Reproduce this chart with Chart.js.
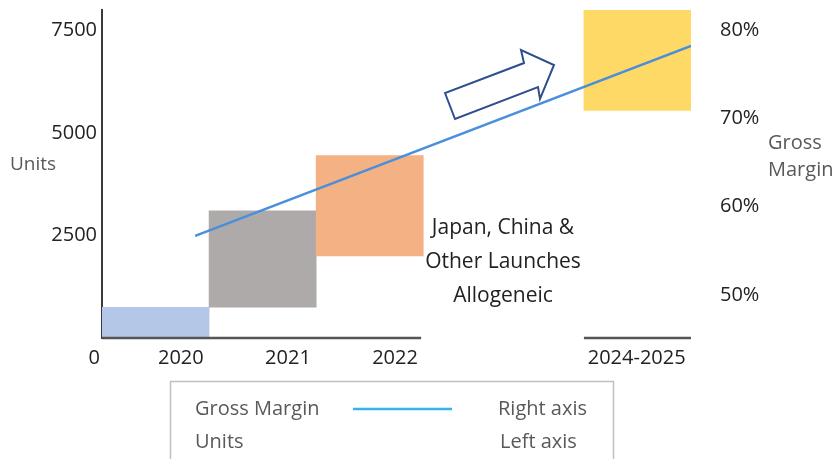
<!DOCTYPE html>
<html>
<head>
<meta charset="utf-8">
<script src="https://cdn.jsdelivr.net/npm/chart.js@4.4.1/dist/chart.umd.min.js"></script>
<style>
  html, body { margin: 0; padding: 0; background: #fff; }
  #wrap { width: 839px; height: 459px; position: relative; }
</style>
</head>
<body>
<div id="wrap"><canvas id="unitsChart"></canvas></div>
<script>
// units per period (floating bars: start, end) and gross margin trend

const periods = ['2020', '2021', '2022', '2024-2025']
const periodYear = [2020, 2021, 2022, 2024.5] // mid point of each period
const unitsFrom = [0, 750, 2000, 5550]
const unitsTo = [750, 3100, 4450, 8000]
const barColors = ['#b4c7e7', '#aeaaaa', '#f4b183', '#ffd966']

const marginYears = [2020.37, 2025]
const marginValues = [56.7, 78.2] // percent

const unitTicks = [2500, 5000, 7500]
const marginTicks = [50, 60, 70, 80]

const launchNote = ['Japan, China &', 'Other Launches', 'Allogeneic']

const FONT = "'Open Sans', 'Noto Sans', sans-serif"

const ctx = document.getElementById('unitsChart').getContext('2d')

// fixed axis sizes, no extra label padding around the plot
const fixSize = (w, h) => axis => {
  if (w !== null) axis.width = w
  if (h !== null) axis.height = h
  axis.paddingLeft = axis.paddingRight = axis.paddingTop = axis.paddingBottom = 0
}

// extra drawing: broken baseline, axis titles, note, arrow and the boxed legend
const extras = {
  id: 'extras',
  afterDraw(chart) {
    const c = chart.ctx
    const x = chart.scales.x
    const y = chart.scales.y
    const bottom = chart.chartArea.bottom
    c.save()

    // baseline, skipping 2023
    c.strokeStyle = '#555'
    c.lineWidth = 2.5
    c.beginPath()
    c.moveTo(y.right, bottom)
    c.lineTo(x.getPixelForValue(2022.48), bottom)
    c.moveTo(x.getPixelForValue(2024), bottom)
    c.lineTo(x.getPixelForValue(2025), bottom)
    c.stroke()

    c.textBaseline = 'middle'
    c.fillStyle = '#222'
    c.font = '20px ' + FONT
    c.textAlign = 'right'
    c.fillText('0', y.right - 2, bottom + 20)

    c.fillStyle = '#595959'
    c.font = '19px ' + FONT
    c.textAlign = 'left'
    c.fillText('Units', 10, 165)
    c.font = '20px ' + FONT
    c.fillText('Gross', 768, 143)
    c.fillText('Margin', 768, 170)

    c.fillStyle = '#222'
    c.font = '21px ' + FONT
    c.textAlign = 'center'
    launchNote.forEach((t, i) => c.fillText(t, 503, 228 + i * 34))

    // outlined arrow
    c.strokeStyle = '#2f4e8f'
    c.lineWidth = 2
    c.lineJoin = 'miter'
    c.beginPath()
    const pts = [[445, 93], [455, 119], [538, 87], [540, 99], [554, 65], [521, 50], [524, 63]]
    pts.forEach((p, i) => i ? c.lineTo(p[0], p[1]) : c.moveTo(p[0], p[1]))
    c.closePath()
    c.fillStyle = '#fff'
    c.fill()
    c.stroke()

    // legend box
    c.strokeStyle = '#c0c0c0'
    c.lineWidth = 1.5
    c.strokeRect(170.5, 381.5, 443, 90)
    c.fillStyle = '#595959'
    c.font = '20px ' + FONT
    c.textAlign = 'left'
    c.fillText(chart.data.datasets[0].label, 195, 409)
    c.fillText(chart.data.datasets[1].label, 195, 442)
    c.fillText('Right axis', 498, 409)
    c.fillText('Left axis', 500, 442)
    c.strokeStyle = '#36b3ea'
    c.lineWidth = 2.5
    c.beginPath()
    c.moveTo(353, 409)
    c.lineTo(452, 409)
    c.stroke()

    c.restore()
  }
}

const unitsChart = new Chart(ctx, {
  type: 'bar',
  data: {
    datasets: [{
      type: 'line',
      label: 'Gross Margin',
      data: marginYears.map((yr, i) => ({ x: yr, y: marginValues[i] })),
      yAxisID: 'y1',
      borderColor: '#4a8fd9',
      borderWidth: 2.5,
      pointRadius: 0,
      order: 0
    }, {
      label: 'Units',
      data: periodYear.map((yr, i) => ({ x: yr, y: [unitsFrom[i], unitsTo[i]] })),
      yAxisID: 'y',
      backgroundColor: barColors,
      borderWidth: 0,
      barPercentage: 1,
      categoryPercentage: 1,
      order: 1
    }]
  },
  options: {
    responsive: true,
    maintainAspectRatio: false,
    animation: false,
    layout: { padding: { top: 10, left: 0, right: 0, bottom: 0 } },
    plugins: {
      legend: { display: false },
      tooltip: { enabled: false }
    },
    scales: {
      x: {
        type: 'linear',
        min: 2019.5,
        max: 2025,
        offset: false,
        grid: { display: false, drawTicks: false, offset: false },
        border: { display: false },
        afterBuildTicks: axis => {
          axis.ticks = periodYear.map(v => ({ value: v + 0.45 }))
        },
        afterFit: fixSize(null, 121),
        ticks: {
          align: 'end',
          padding: 8,
          color: '#222',
          font: { family: FONT, size: 20 },
          callback: (v, i) => periods[i]
        }
      },
      y: {
        position: 'left',
        min: 0,
        max: 8000,
        grid: { display: false, drawTicks: false },
        border: { display: true, color: '#3a3a3a', width: 2 },
        afterBuildTicks: axis => {
          axis.ticks = unitTicks.map(v => ({ value: v }))
        },
        afterFit: fixSize(102, null),
        ticks: {
          padding: 5,
          color: '#222',
          font: { family: FONT, size: 20 },
          callback: v => String(v)
        }
      },
      y1: {
        position: 'right',
        min: 45.13,
        max: 82.26,
        grid: { display: false, drawTicks: false },
        border: { display: false },
        afterBuildTicks: axis => {
          axis.ticks = marginTicks.map(v => ({ value: v }))
        },
        afterFit: fixSize(148, null),
        ticks: {
          padding: 29,
          color: '#222',
          font: { family: FONT, size: 20 },
          callback: v => v + '%'
        }
      }
    }
  },
  plugins: [extras]
})
</script>
</body>
</html>
